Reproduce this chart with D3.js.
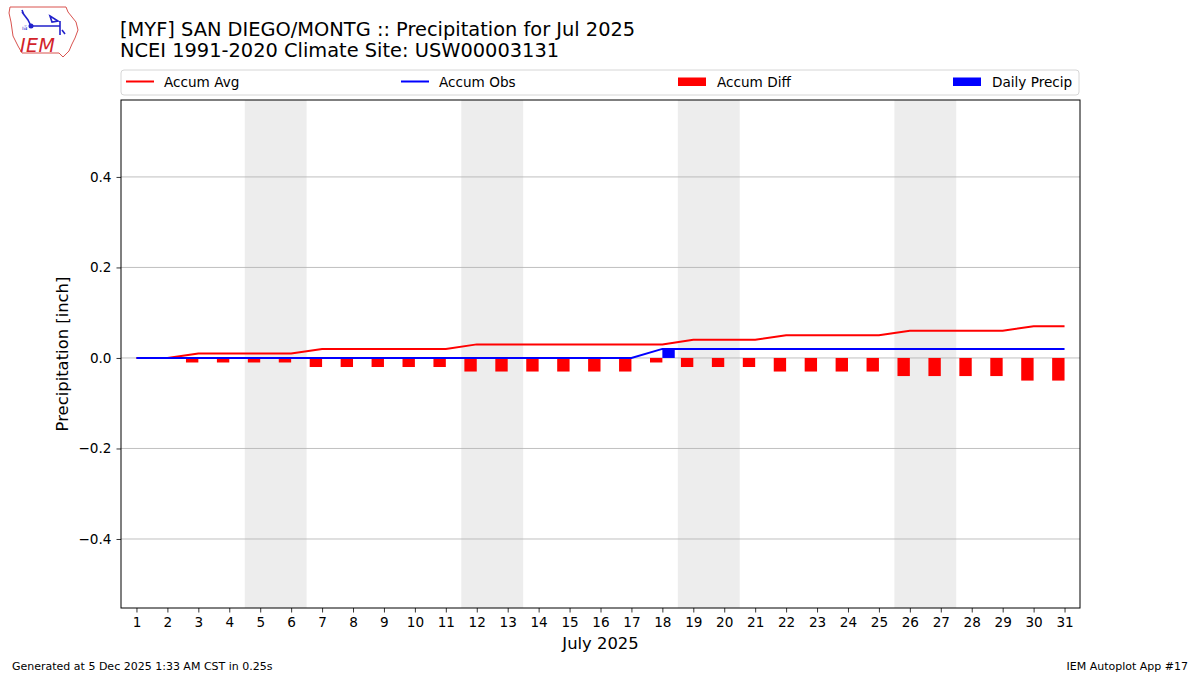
<!DOCTYPE html>
<html>
<head>
<meta charset="utf-8">
<script src="https://cdn.jsdelivr.net/npm/d3@7"></script>
<style>
body { margin: 0; background: #fff; }
text { font-family: "DejaVu Sans", sans-serif; }
</style>
</head>
<body>
<script>
// data
var days = d3.range(1, 32)
var accumAvg = [0, 0, 0.01, 0.01, 0.01, 0.01, 0.02, 0.02, 0.02, 0.02, 0.02, 0.03, 0.03, 0.03, 0.03, 0.03, 0.03, 0.03,
    0.04, 0.04, 0.04, 0.05, 0.05, 0.05, 0.05, 0.06, 0.06, 0.06, 0.06, 0.07, 0.07]
var accumObs = [0, 0, 0, 0, 0, 0, 0, 0, 0, 0, 0, 0, 0, 0, 0, 0, 0, 0.02,
    0.02, 0.02, 0.02, 0.02, 0.02, 0.02, 0.02, 0.02, 0.02, 0.02, 0.02, 0.02, 0.02]
var dailyPrecip = [0, 0, 0, 0, 0, 0, 0, 0, 0, 0, 0, 0, 0, 0, 0, 0, 0, 0.02,
    0, 0, 0, 0, 0, 0, 0, 0, 0, 0, 0, 0, 0]
var weekends = [[5, 6], [12, 13], [19, 20], [26, 27]]
var yTicks = [-0.4, -0.2, 0, 0.2, 0.4]

var width = 1200
var height = 675

var margin = { top: 100, right: 120, bottom: 67, left: 121 }

var x = d3.scaleLinear()
    .domain([0.5, 31.5])
    .range([margin.left, width - margin.right])

var y = d3.scaleLinear()
    .domain([-0.5525, 0.57])
    .range([height - margin.bottom, margin.top])

var svg = d3.select("body")
    .append("svg")
    .attr("width", width)
    .attr("height", height)

svg.append("rect").attr("width", width).attr("height", height).attr("fill", "white")

// weekend shading
svg.selectAll(".wk")
    .data(weekends)
    .enter().append("rect")
    .attr("x", d => x(d[0] - 0.5))
    .attr("width", d => x(d[1] + 0.5) - x(d[0] - 0.5))
    .attr("y", margin.top)
    .attr("height", height - margin.bottom - margin.top)
    .attr("fill", "#ededed")

// grid
svg.append("g")
    .selectAll("line")
    .data(yTicks)
    .enter().append("line")
    .attr("x1", margin.left).attr("x2", width - margin.right)
    .attr("y1", d => y(d)).attr("y2", d => y(d))
    .attr("stroke", "#b0b0b0")
    .attr("stroke-width", 0.8)

var diff = accumObs.map((v, i) => +(v - accumAvg[i]).toFixed(2))
var bw = 0.4

// accum diff bars (left of the day)
svg.append("g")
    .selectAll("rect")
    .data(days)
    .enter().append("rect")
    .attr("x", d => x(d - bw))
    .attr("width", x(bw) - x(0))
    .attr("y", (d, i) => y(Math.max(0, diff[i])))
    .attr("height", (d, i) => Math.abs(y(diff[i]) - y(0)))
    .attr("fill", "red")

// daily precip bars (right of the day)
svg.append("g")
    .selectAll("rect")
    .data(days)
    .enter().append("rect")
    .attr("x", d => x(d))
    .attr("width", x(bw) - x(0))
    .attr("y", (d, i) => y(dailyPrecip[i]))
    .attr("height", (d, i) => y(0) - y(dailyPrecip[i]))
    .attr("fill", "blue")

var lineGen = function (vals) {
    return d3.line()
        .x(d => x(d))
        .y((d, i) => y(vals[i]))(days)
}

svg.append("path")
    .attr("d", lineGen(accumAvg))
    .attr("stroke", "red").attr("stroke-width", 2).attr("fill", "none")

svg.append("path")
    .attr("d", lineGen(accumObs))
    .attr("stroke", "blue").attr("stroke-width", 2).attr("fill", "none")

// axes
var ejeY = d3.axisLeft(y)
    .tickValues(yTicks)
    .tickSize(4.5)
    .tickPadding(5)
    .tickFormat(d => d3.format(".1f")(d).replace("-", "\u2212"))

var gy = svg.append("g")
    .attr("transform", "translate(" + margin.left + ",0)")
    .call(ejeY)

var ejeX = d3.axisBottom(x)
    .tickValues(days)
    .tickSize(4.5)
    .tickPadding(5)
    .tickFormat(d3.format("d"))

var gx = svg.append("g")
    .attr("transform", "translate(0," + (height - margin.bottom) + ")")
    .call(ejeX)

for (const g of [gx, gy]) {
    g.select(".domain").remove()
    g.selectAll("text").attr("font-size", 13.6).attr("fill", "black")
        .attr("font-family", "DejaVu Sans")
    g.selectAll("line").attr("stroke", "black").attr("stroke-width", 0.8)
}

// frame
svg.append("rect")
    .attr("x", margin.left).attr("y", margin.top)
    .attr("width", width - margin.right - margin.left)
    .attr("height", height - margin.bottom - margin.top)
    .attr("fill", "none").attr("stroke", "black").attr("stroke-width", 1)

// axis titles
svg.append("text")
    .attr("x", (margin.left + width - margin.right) / 2)
    .attr("y", 649)
    .attr("text-anchor", "middle")
    .attr("font-size", 16.4)
    .text("July 2025")

svg.append("text")
    .attr("transform", "translate(68," + ((margin.top + height - margin.bottom) / 2) + ") rotate(-90)")
    .attr("text-anchor", "middle")
    .attr("font-size", 16.4)
    .text("Precipitation [inch]")

// titles
svg.append("text").attr("x", 120).attr("y", 36).attr("font-size", 19.4)
    .text("[MYF] SAN DIEGO/MONTG :: Precipitation for Jul 2025")
svg.append("text").attr("x", 120).attr("y", 57).attr("font-size", 19.4)
    .text("NCEI 1991-2020 Climate Site: USW00003131")

// legend
var legendItems = [
    { name: "Accum Avg", color: "red", kind: "line" },
    { name: "Accum Obs", color: "blue", kind: "line" },
    { name: "Accum Diff", color: "red", kind: "rect" },
    { name: "Daily Precip", color: "blue", kind: "rect" }
]
svg.append("rect")
    .attr("x", 121).attr("y", 70).attr("width", 958).attr("height", 25)
    .attr("rx", 3).attr("fill", "white").attr("stroke", "#d6d6d6")

var legendX = [126, 401, 678, 953]
var lg = svg.append("g").selectAll("g")
    .data(legendItems)
    .enter().append("g")
    .attr("transform", (d, i) => "translate(" + legendX[i] + ",81.5)")

lg.filter(d => d.kind == "line").append("line")
    .attr("x1", 0).attr("x2", 28)
    .attr("stroke", d => d.color).attr("stroke-width", 2)
lg.filter(d => d.kind == "rect").append("rect")
    .attr("x", 0).attr("y", -4).attr("width", 28).attr("height", 8.5)
    .attr("fill", d => d.color)
lg.append("text")
    .attr("x", d => d.kind == "line" ? 38 : 39)
    .attr("y", 5)
    .attr("font-size", 13.6)
    .text(d => d.name)

// footer
svg.append("text").attr("x", 12).attr("y", 670).attr("font-size", 11)
    .text("Generated at 5 Dec 2025 1:33 AM CST in 0.25s")
svg.append("text").attr("x", 1188).attr("y", 670).attr("font-size", 11)
    .attr("text-anchor", "end")
    .text("IEM Autoplot App #17")

// rough IEM logo
var logo = svg.append("g")
logo.append("path")
    .attr("d", "M10,7 L66,7 L68,12 L72,17 L76,22 L78,30 L75,38 L72,44 L69,51 L63,57 L59,53 L22,53 L18,46 L13,36 L11,22 L9,13 Z")
    .attr("fill", "white").attr("stroke", "#d9534f").attr("stroke-width", 1)
logo.append("text")
    .attr("x", 20).attr("y", 52)
    .attr("font-family", "DejaVu Serif").attr("font-style", "italic")
    .attr("font-size", 19).attr("fill", "#d2232a")
    .attr("textLength", 35)
    .text("IEM")
logo.append("path")
    .attr("d", "M22,12 L28,20 L31,26 L60,26 M60,21 L60,35 M50,16 L58,21 L52,22 Z M22,10 L24,15 M62,30 L65,34")
    .attr("stroke", "#2222cc").attr("stroke-width", 1.6).attr("fill", "none")
logo.append("circle").attr("cx", 31).attr("cy", 26).attr("r", 2.5).attr("fill", "#2222cc")
logo.append("text").attr("x", 22).attr("y", 30).attr("font-size", 6).attr("fill", "#2222cc").text("ıä")
</script>
</body>
</html>
